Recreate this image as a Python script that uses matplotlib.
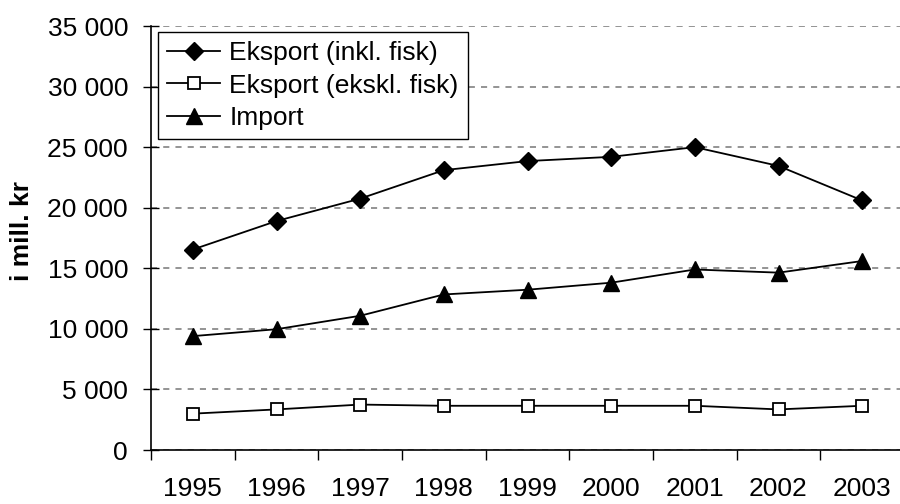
import matplotlib
matplotlib.use("Agg")
import matplotlib.pyplot as plt
from matplotlib.ticker import FuncFormatter, FixedLocator

plt.rcParams['font.family'] = ['Liberation Sans', 'DejaVu Sans']

# data (mill. kr)
years = ['1995', '1996', '1997', '1998', '1999', '2000', '2001', '2002', '2003']
eksport_inkl = [16550, 18900, 20750, 23100, 23850, 24200, 25000, 23450, 20600]
eksport_ekskl = [3000, 3350, 3750, 3650, 3650, 3650, 3650, 3350, 3650]
import_vals = [9400, 9970, 11080, 12840, 13230, 13810, 14900, 14640, 15600]

fig = plt.figure(figsize=(9, 5.04), dpi=100)
ax = fig.add_axes([151/900, 1 - 450/504, 753/900, 424/504])

x = list(range(len(years)))
ax.plot(x, eksport_inkl, color='black', lw=1.3, marker='D', ms=9.5,
        mfc='black', mec='black', label='Eksport (inkl. fisk)', clip_on=False)
ax.plot(x, eksport_ekskl, color='black', lw=1.3, marker='s', ms=9,
        mfc='white', mec='black', mew=1.3, label='Eksport (ekskl. fisk)', clip_on=False)
ax.plot(x, import_vals, color='black', lw=1.3, marker='^', ms=11.5,
        mfc='black', mec='black', label='Import', clip_on=False)

ax.set_xlim(-0.5, len(years) - 0.5)
ax.set_ylim(0, 35000)

# y axis
ax.set_yticks(range(0, 35001, 5000))
ax.yaxis.set_major_formatter(FuncFormatter(lambda v, p: f"{int(v):,}".replace(',', ' ')))
ax.tick_params(axis='y', direction='inout', length=12, width=1, pad=10.5, labelsize=19)
ax.yaxis.grid(True, linestyle=(0, (4, 4)), color='#777777', lw=1.1)
ax.set_axisbelow(True)

# x axis: labels centred, ticks between categories
ax.set_xticks(x)
ax.set_xticklabels(years)
ax.xaxis.set_minor_locator(FixedLocator([i - 0.5 for i in range(len(years) + 1)]))
ax.tick_params(axis='x', which='major', length=0, pad=19.5, labelsize=19)
ax.tick_params(axis='x', which='minor', direction='out', length=7, width=1)

for s in ['top', 'right']:
    ax.spines[s].set_visible(False)
for s in ['left', 'bottom']:
    ax.spines[s].set_linewidth(1.2)

fig.text(22/900, 1 - 231/504, 'i mill. kr', rotation=90, ha='center', va='center',
         fontsize=19, fontweight='bold')

leg = ax.legend(loc='upper left', bbox_to_anchor=(158/900, 1 - 32/504),
                bbox_transform=fig.transFigure, borderaxespad=0, fontsize=19,
                handlelength=2.0, handletextpad=0.35, labelspacing=0.32,
                borderpad=0.35, fancybox=False, framealpha=1, edgecolor='black')
leg.get_frame().set_linewidth(1)

fig.savefig('out.png', dpi=100)
